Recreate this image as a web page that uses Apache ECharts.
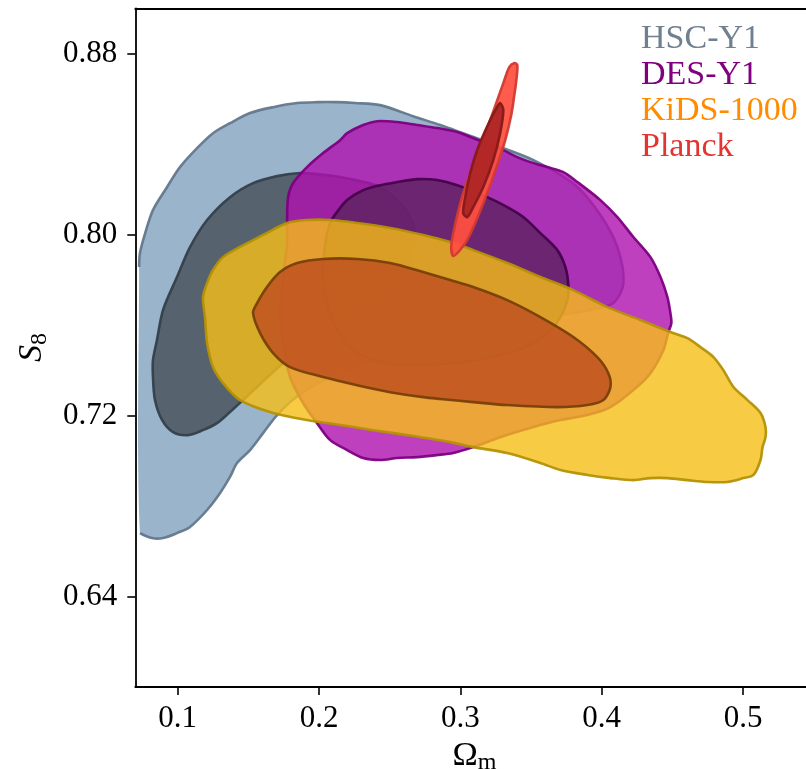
<!DOCTYPE html>
<html>
<head>
<meta charset="utf-8">
<script src="https://cdn.jsdelivr.net/npm/echarts@6/dist/echarts.min.js"></script>
<style>
html,body{margin:0;padding:0;background:#fff;}
#chart{width:806px;height:769px;}
</style>
</head>
<body>
<div id="chart"></div>
<script>
// ---- data (Omega_m, S8) ----
const xTicks = [0.1, 0.2, 0.3, 0.4, 0.5];
const yTicks = [0.64, 0.72, 0.80, 0.88];
const surveyNames = ['HSC-Y1', 'DES-Y1', 'KiDS-1000', 'Planck'];

const hscOuter = [[0.0727,0.7856],[0.0733,0.7918],[0.077,0.8006],[0.0825,0.8108],[0.0924,0.8209],[0.1016,0.8298],[0.1137,0.8382],[0.125,0.8448],[0.137,0.8492],[0.1512,0.8537],[0.1675,0.8563],[0.1845,0.8581],[0.1986,0.8585],[0.2128,0.8585],[0.2255,0.8581],[0.2432,0.8572],[0.2666,0.8523],[0.2857,0.8484],[0.2978,0.8457],[0.3247,0.8395],[0.3517,0.8329],[0.3814,0.8218],[0.3991,0.8086],[0.4111,0.7944],[0.4154,0.7785],[0.4083,0.7697],[0.392,0.7666],[0.3566,0.763],[0.3141,0.7569],[0.2716,0.7502],[0.2291,0.7423],[0.2007,0.7348],[0.1831,0.7277],[0.1703,0.7202],[0.1604,0.7122],[0.1512,0.7047],[0.142,0.699],[0.137,0.6928],[0.13,0.6857],[0.1208,0.6782],[0.1087,0.6707],[0.0995,0.668],[0.0896,0.6658],[0.0818,0.6658],[0.0733,0.668]];
const hscInner = [[0.0896,0.7666],[0.0995,0.7812],[0.1087,0.7944],[0.1208,0.8064],[0.137,0.8165],[0.1533,0.8227],[0.1703,0.8258],[0.1845,0.8271],[0.1986,0.8267],[0.2149,0.8254],[0.2291,0.8236],[0.2432,0.821],[0.2553,0.8152],[0.2645,0.8077],[0.268,0.8006],[0.2666,0.7918],[0.2631,0.7843],[0.2468,0.7745],[0.2255,0.7666],[0.2079,0.7608],[0.1746,0.7432],[0.1462,0.7268],[0.137,0.7215],[0.1278,0.7166],[0.1179,0.7135],[0.1073,0.7113],[0.0967,0.7126],[0.0889,0.718],[0.0839,0.7268],[0.0825,0.737],[0.0825,0.7445],[0.0853,0.7533]];
const desOuter = [[0.1774,0.8064],[0.1781,0.8165],[0.1816,0.8227],[0.1915,0.8298],[0.2029,0.836],[0.2149,0.8417],[0.2199,0.8448],[0.2312,0.8484],[0.2411,0.8501],[0.2553,0.8497],[0.2694,0.8484],[0.2836,0.8471],[0.2978,0.8453],[0.307,0.8431],[0.3304,0.8373],[0.3403,0.8342],[0.3495,0.832],[0.3615,0.8298],[0.3729,0.8276],[0.3828,0.8232],[0.3991,0.8152],[0.4111,0.8077],[0.4224,0.7989],[0.4345,0.79],[0.4416,0.7812],[0.4465,0.7723],[0.4486,0.7653],[0.4493,0.7608],[0.4472,0.7569],[0.4437,0.7489],[0.4345,0.7387],[0.4224,0.7312],[0.4062,0.7237],[0.3899,0.7202],[0.3708,0.718],[0.3517,0.7149],[0.3282,0.7104],[0.3091,0.706],[0.2949,0.7034],[0.2836,0.7025],[0.2694,0.7016],[0.2553,0.7012],[0.2433,0.7003],[0.2312,0.7012],[0.2199,0.7047],[0.2079,0.7091],[0.1986,0.7166],[0.1887,0.7255],[0.1795,0.737],[0.1746,0.752],[0.1725,0.7666],[0.1746,0.7812],[0.1774,0.7962]];
const desInner = [[0.2079,0.8051],[0.2128,0.81],[0.2199,0.8152],[0.2312,0.8196],[0.2432,0.8218],[0.2553,0.8232],[0.2694,0.8245],[0.2836,0.8241],[0.2978,0.8218],[0.319,0.8165],[0.3332,0.8121],[0.3445,0.8077],[0.3566,0.8006],[0.3686,0.7931],[0.3743,0.7856],[0.3764,0.7777],[0.3757,0.771],[0.3708,0.7635],[0.3637,0.7578],[0.3517,0.752],[0.3332,0.7476],[0.3091,0.7441],[0.2857,0.7427],[0.2645,0.7423],[0.2503,0.7427],[0.2269,0.7476],[0.2128,0.7578],[0.205,0.771],[0.2029,0.7812],[0.2043,0.7953]];
const kidsOuter = [[0.1179,0.7723],[0.1208,0.7785],[0.125,0.7843],[0.1321,0.79],[0.1441,0.7945],[0.1604,0.7998],[0.1774,0.8051],[0.1915,0.8064],[0.2079,0.8064],[0.2269,0.8051],[0.2503,0.8029],[0.2737,0.7998],[0.2928,0.7967],[0.3091,0.7931],[0.3332,0.7874],[0.3566,0.7812],[0.3799,0.7754],[0.404,0.7679],[0.4274,0.7622],[0.4486,0.7569],[0.4607,0.7542],[0.4699,0.7502],[0.4791,0.7458],[0.4861,0.74],[0.4932,0.7326],[0.5032,0.7268],[0.5124,0.7211],[0.5159,0.7149],[0.5159,0.7104],[0.5138,0.706],[0.5124,0.7003],[0.5074,0.6937],[0.5004,0.6923],[0.489,0.6906],[0.4749,0.6906],[0.4607,0.6914],[0.4465,0.6923],[0.4345,0.6923],[0.4224,0.6914],[0.4062,0.6923],[0.3899,0.6937],[0.3708,0.6959],[0.3566,0.699],[0.3332,0.7034],[0.3091,0.706],[0.2928,0.7082],[0.2624,0.7113],[0.2383,0.7135],[0.2149,0.7158],[0.1915,0.718],[0.1675,0.7211],[0.1441,0.7268],[0.1321,0.7343],[0.125,0.7414],[0.1208,0.752],[0.1193,0.7635]];
const kidsInner = [[0.1533,0.7653],[0.1562,0.7697],[0.1632,0.7768],[0.1724,0.7834],[0.1845,0.7874],[0.2029,0.7892],[0.2269,0.7892],[0.2503,0.7874],[0.2737,0.7834],[0.2928,0.7799],[0.3091,0.7768],[0.3332,0.771],[0.3566,0.7635],[0.3799,0.7547],[0.3969,0.7458],[0.4047,0.7387],[0.4062,0.7326],[0.4012,0.7268],[0.3899,0.7246],[0.3686,0.7237],[0.3332,0.7246],[0.3091,0.7259],[0.2857,0.7273],[0.2737,0.7281],[0.2503,0.7303],[0.2269,0.7334],[0.2029,0.737],[0.1795,0.7414],[0.1675,0.7476],[0.1583,0.7564]];
const planckOuter = [[0.3346,0.874],[0.3382,0.8758],[0.3403,0.8749],[0.3396,0.8683],[0.3382,0.8617],[0.336,0.8528],[0.3318,0.8418],[0.3261,0.8307],[0.319,0.8183],[0.312,0.8073],[0.3049,0.7976],[0.2992,0.7927],[0.295,0.7905],[0.2935,0.7945],[0.295,0.8006],[0.2978,0.8086],[0.302,0.8183],[0.307,0.8272],[0.3141,0.8387],[0.3211,0.8506],[0.3261,0.8594],[0.3304,0.8669]];
const planckInner = [[0.3282,0.8581],[0.3304,0.855],[0.3282,0.8449],[0.3233,0.8329],[0.3162,0.821],[0.3091,0.8121],[0.3049,0.8077],[0.302,0.8095],[0.3035,0.8166],[0.307,0.8272],[0.3127,0.8387],[0.3211,0.8506],[0.3261,0.8564]];

const SERIF = "'Liberation Serif', 'DejaVu Serif', serif";

function contour(name, pts, fill, stroke, z, openStroke) {
  return {
    type: 'custom',
    name: name,
    coordinateSystem: 'cartesian2d',
    clip: true,
    silent: true,
    z: z,
    data: pts,
    encode: {x: 0, y: 1},
    renderItem: function (params, api) {
      if (params.dataIndex !== 0) return null;
      const p = pts.map(function (d) { return api.coord(d); });
      return {
        type: 'group',
        children: [
          {type: 'polygon', shape: {points: p, smooth: 0.3}, style: {fill: fill, stroke: null}},
          {type: openStroke ? 'polyline' : 'polygon', shape: {points: p, smooth: 0.3},
           style: {fill: null, stroke: stroke, lineWidth: 2.6, lineJoin: 'round'}}
        ]
      };
    }
  };
}

const chart = echarts.init(document.getElementById('chart'), null, {renderer: 'canvas'});
chart.setOption({
  animation: false,
  backgroundColor: '#fff',
  grid: {left: 135.3, right: -7.7, top: 8.3, bottom: 82.1, containLabel: false, outerBoundsMode: 'none'},
  legend: {
    orient: 'vertical', left: 631, top: 16, icon: 'none', itemWidth: 0, itemHeight: 10, itemGap: 0,
    selectedMode: false,
    textStyle: {fontFamily: SERIF, fontSize: 34, lineHeight: 36},
    data: [
      {name: surveyNames[0], textStyle: {color: '#708090'}},
      {name: surveyNames[1], textStyle: {color: '#800080'}},
      {name: surveyNames[2], textStyle: {color: '#ff8c00'}},
      {name: surveyNames[3], textStyle: {color: '#e3342f'}}
    ]
  },
  xAxis: [{
    type: 'value', min: 0.07, max: 0.55, position: 'bottom',
    name: '{o|Ω}{m|m}', nameLocation: 'middle', nameGap: 50,
    nameTextStyle: {rich: {
      o: {fontFamily: SERIF, fontSize: 34, color: '#000'},
      m: {fontFamily: SERIF, fontSize: 24, color: '#000', padding: [14, 0, 0, 0]}
    }},
    axisLine: {show: true, onZero: false, lineStyle: {color: '#000', width: 1.8}},
    axisTick: {show: true, customValues: xTicks, length: 8, lineStyle: {color: '#000', width: 1.6}},
    axisLabel: {customValues: xTicks, formatter: function (v) { return v.toFixed(1); },
      fontFamily: SERIF, fontSize: 31, color: '#000', margin: 16},
    splitLine: {show: false}
  }, {
    type: 'value', min: 0.07, max: 0.55, position: 'top',
    axisLine: {show: true, onZero: false, lineStyle: {color: '#000', width: 1.8}},
    axisTick: {show: false}, axisLabel: {show: false}, splitLine: {show: false}
  }],
  yAxis: [{
    type: 'value', min: 0.60, max: 0.90, position: 'left',
    name: '{s|S}{n|8}', nameLocation: 'middle', nameGap: 84, nameRotate: 90,
    nameTextStyle: {rich: {
      s: {fontFamily: SERIF, fontSize: 34, fontStyle: 'italic', color: '#000'},
      n: {fontFamily: SERIF, fontSize: 24, color: '#000', padding: [14, 0, 0, 0]}
    }},
    axisLine: {show: true, onZero: false, lineStyle: {color: '#000', width: 1.8}},
    axisTick: {show: true, customValues: yTicks, length: 8, lineStyle: {color: '#000', width: 1.6}},
    axisLabel: {customValues: yTicks, formatter: function (v) { return v.toFixed(2); },
      fontFamily: SERIF, fontSize: 31, color: '#000', margin: 18},
    splitLine: {show: false}
  }],
  series: [
    contour(surveyNames[0], hscOuter, 'rgba(129,162,190,0.8)', 'rgba(100,120,140,0.95)', 1, true),
    contour(surveyNames[0], hscInner, 'rgba(69,79,88,0.8)', 'rgba(52,64,76,0.95)', 2, false),
    contour(surveyNames[1], desOuter, 'rgba(175,16,175,0.8)', 'rgba(125,0,130,0.95)', 3, false),
    contour(surveyNames[1], desInner, 'rgba(92,35,95,0.8)', 'rgba(70,0,75,0.95)', 4, false),
    contour(surveyNames[2], kidsOuter, 'rgba(246,190,22,0.8)', 'rgba(180,145,5,0.95)', 5, false),
    contour(surveyNames[2], kidsInner, 'rgba(189,76,31,0.8)', 'rgba(120,64,8,0.95)', 6, false),
    contour(surveyNames[3], planckOuter, 'rgba(255,80,64,0.93)', 'rgba(210,58,48,0.95)', 7, false),
    contour(surveyNames[3], planckInner, 'rgba(175,38,38,0.95)', 'rgba(135,25,25,0.95)', 8, false)
  ]
});
</script>
</body>
</html>
